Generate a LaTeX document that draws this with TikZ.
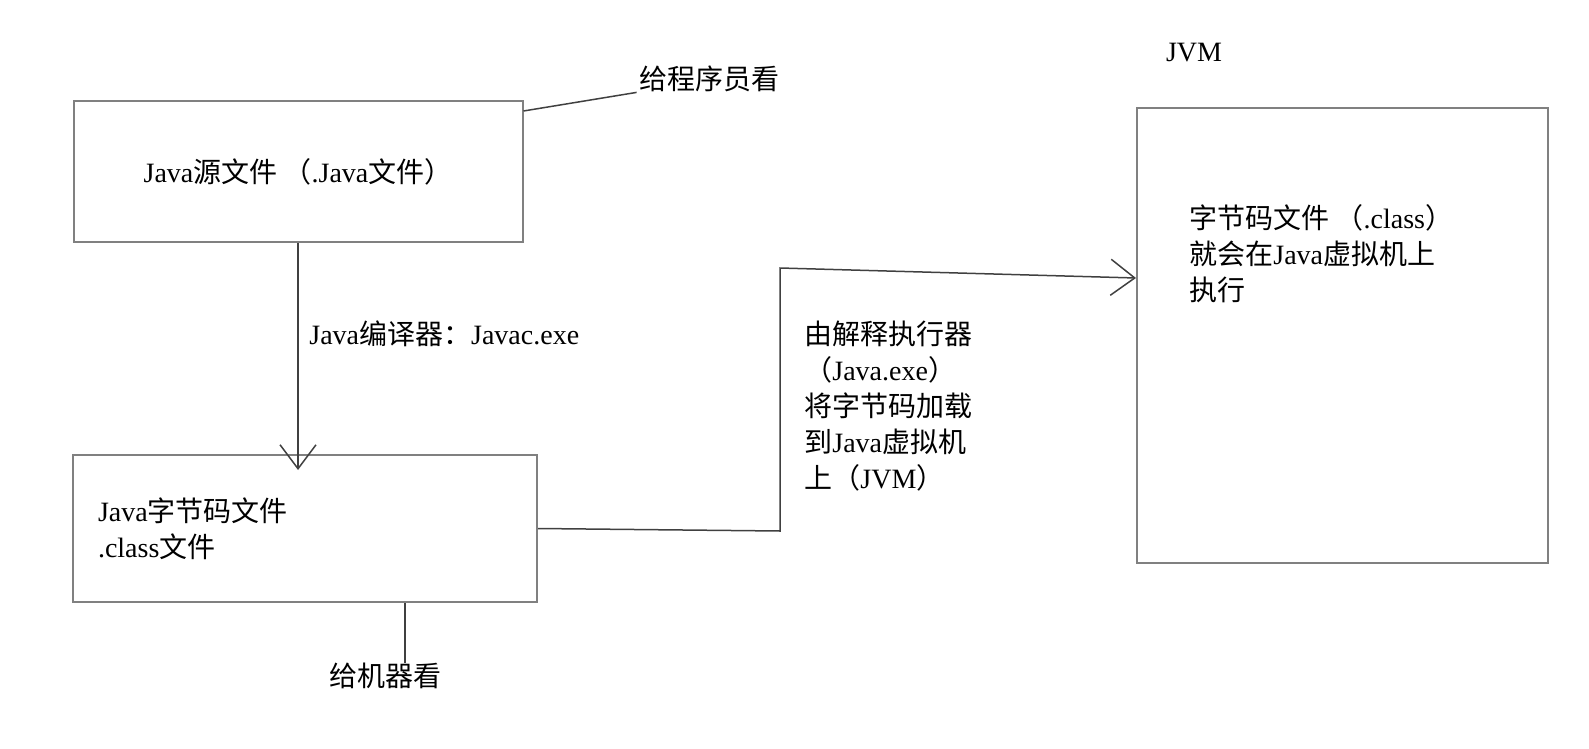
\documentclass[tikz,border=0pt]{standalone}
\usepackage{fontspec}
\setmainfont{Liberation Serif}
\newfontfamily\cjk{Noto Sans CJK SC}
\usetikzlibrary{arrows.meta}
\usetikzlibrary{positioning}
\newcommand{\zh}[1]{{\cjk #1}}

\begin{document}
\begin{tikzpicture}[x=0.5pt, y=-0.5pt,
		font=\fontsize{14pt}{18pt}\selectfont,
		box/.style={draw=black!50, line width=1pt},
		lbl/.style={inner sep=0pt},
		link/.style={draw=black!75, line width=0.75pt},
		>={Straight Barb[length=12pt, width=18pt]}]
					\useasboundingbox (0,0) rectangle (1589,749);
					% boxes
					\node[box, minimum width=224.5pt, minimum height=70.5pt] (src) at (298,171.5) {Java\zh{源文件 （}.Java\zh{文件）}};
					\node[box, minimum height=73.5pt, text width=207pt, inner xsep=12.5pt, align=left] (cls) at (305,528.5) {Java\zh{字节码文件}\\.class\zh{文件}};
					\node[box, minimum width=205.5pt, minimum height=227.5pt] (jvm) at (1342.5,335.5) {};
					% labels
					\node[lbl] (jvmname) at (1194,53) {JVM};
					\node[lbl] (prog) at (709,79) {\zh{给程序员看}};
					\node[lbl] (mach) at (385,676) {\zh{给机器看}};
					\node[lbl, anchor=west] (javac) at (309,334) {Java\zh{编译器：}Javac.exe};
					\node[lbl, anchor=north west, align=left] (load) at (804,321) {\zh{由解释执行器}\\\zh{（}Java.exe\zh{）}\\\zh{将字节码加载}\\\zh{到}Java\zh{虚拟机}\\\zh{上（}JVM\zh{）}};
					\node[lbl, anchor=north west, align=left] (run) at (1189,204) {\zh{字节码文件 （}.class\zh{）}\\\zh{就会在}Java\zh{虚拟机上}\\\zh{执行}};
					% connector points
					\path (src.south |- cls.north) ++(0,16) coordinate (ctip);
					\coordinate (b1) at (780,531);
					\coordinate (b2) at (780,268);
					\coordinate (jin) at ([yshift=28.75pt]jvm.west);
					% add arrow
					\draw[link, ->] (src.south) -- (ctip);
					\draw[link, ->] (cls.east) -- (b1) -- (b2) -- (jin);
					% side notes
					\draw[link] ([yshift=-5.5pt]src.north east) -- ([xshift=-1pt]prog.south west);
					\draw[link] ([xshift=50pt]cls.south) -- ([xshift=50pt]cls.south |- mach.north);
				\end{tikzpicture}
\end{document}
